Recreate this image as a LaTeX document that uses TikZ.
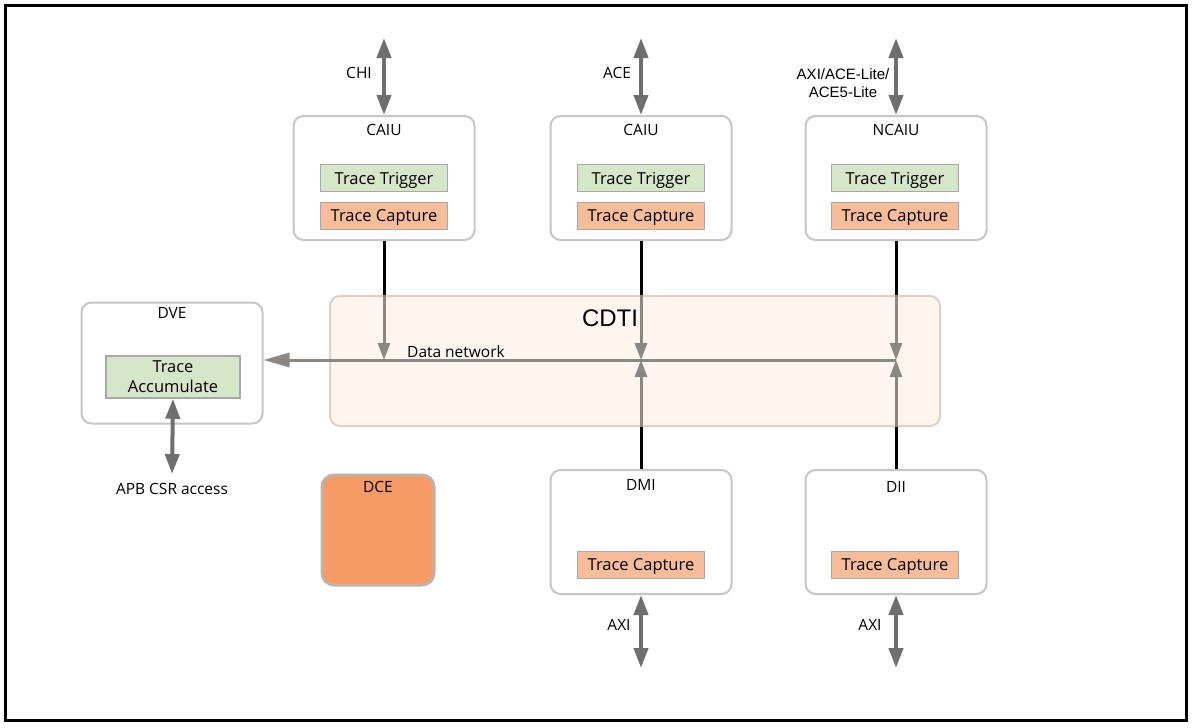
\documentclass[tikz,border=0pt]{standalone}
\usepackage{fontspec}
\setmainfont{Open Sans}
\newfontfamily\arialfont{Liberation Sans}
\usetikzlibrary{arrows.meta,positioning}

\definecolor{unitgray}{HTML}{C6C6C6}
\definecolor{boxgray}{HTML}{A8A8A8}
\definecolor{triggreen}{HTML}{D6E6C8}
\definecolor{captsalmon}{HTML}{F7BC9A}
\definecolor{dcefill}{HTML}{F79B66}
\definecolor{dcedraw}{HTML}{C2B2A6}
\definecolor{cdtifill}{HTML}{FDF5EE}
\definecolor{cdtidraw}{HTML}{D9D1CA}
\definecolor{portgray}{HTML}{6F6F6F}
\definecolor{netgray}{HTML}{8B8783}

\tikzset{
	unit/.style={draw=unitgray, line width=2pt, rounded corners=10pt, fill=white,
		minimum width=181pt, minimum height=124pt, inner sep=0pt},
	unittitle/.style={font=\fontsize{15.5}{18}\selectfont, inner sep=0pt, anchor=north},
	trig/.style={draw=boxgray, line width=1.5pt, fill=triggreen, minimum width=127pt,
		minimum height=27pt, inner sep=0pt, text depth=0pt, font=\fontsize{16.5}{20}\selectfont},
	capt/.style={trig, fill=captsalmon},
	port/.style={draw=portgray, line width=4pt,
		{Triangle[length=20pt,width=14pt]}-{Triangle[length=20pt,width=14pt]}},
	feed/.style={draw=black, line width=3pt},
	net/.style={draw=netgray, line width=3pt},
	tip/.style={-{Triangle[length=17pt,width=12pt]}},
	lbl/.style={font=\fontsize{15.5}{18}\selectfont, inner sep=0pt},
}

\begin{document}
\begin{tikzpicture}[x=1pt,y=-1pt]
	\useasboundingbox (0,0) rectangle (1192,728);
	\draw[line width=3pt] (5,5) rectangle (1186,720);

	% network in the middle
	\node[draw=cdtidraw, fill=cdtifill, line width=2pt, rounded corners=10pt,
		minimum width=610pt, minimum height=130pt] (cdti) at (635,361) {};
	\node[font=\arialfont\fontsize{24}{26}\selectfont, inner sep=0pt] (cdtiname) at (610,318) {CDTI};

	% agent units
	\node[unit] (caiuA) at (384,178) {};
	\node[unit] (caiuB) at (641,178) {};
	\node[unit] (ncaiu) at (896,178) {};
	\node[unittitle, below=9pt of caiuA.north] (caiuAname) {CAIU};
	\node[unittitle, below=9pt of caiuB.north] (caiuBname) {CAIU};
	\node[unittitle, below=9pt of ncaiu.north] (ncaiuname) {NCAIU};

	\node[trig] (trigA) at (384,178) {Trace Trigger};
	\node[capt] (captA) at (384,216) {Trace Capture};
	\node[trig] (trigB) at (641,178) {Trace Trigger};
	\node[capt] (captB) at (641,216) {Trace Capture};
	\node[trig] (trigC) at (895,178) {Trace Trigger};
	\node[capt] (captC) at (895,216) {Trace Capture};

	% DVE
	\node[unit, minimum height=121pt] (dve) at (172,363) {};
	\node[unittitle, below=6pt of dve.north] (dvename) {DVE};
	\node[trig, minimum width=134pt, minimum height=42pt, align=center, text depth=,
		font=\fontsize{16.5}{20}\selectfont] (accum) at (173,377) {Trace\\Accumulate};

	% DCE
	\node[draw=dcedraw, fill=dcefill, line width=3pt, rounded corners=12pt,
		minimum width=112pt, minimum height=110pt] (dce) at (378,530) {};
	\node[unittitle, below=8pt of dce.north] (dcename) {DCE};

	% memory side
	\node[unit] (dmi) at (641,532) {};
	\node[unit] (dii) at (896,532) {};
	\node[unittitle, below=10pt of dmi.north] (dminame) {DMI};
	\node[unittitle, below=12pt of dii.north] (diiname) {DII};
	\node[capt] (captD) at (641,565) {Trace Capture};
	\node[capt] (captE) at (895,565) {Trace Capture};

	% external ports
	\coordinate (chiEnd) at (384,38);
	\coordinate (aceEnd) at (641,38);
	\coordinate (axiEnd) at (896,38);
	\coordinate (apbEnd) at (172,474);
	\coordinate (dmiEnd) at (641,668);
	\coordinate (diiEnd) at (896,668);
	\draw[port] (chiEnd) -- (caiuA.north);
	\draw[port] (aceEnd) -- (caiuB.north);
	\draw[port] (axiEnd) -- (ncaiu.north);
	\draw[port] (accum.south) -- (apbEnd);
	\draw[port] (dmi.south) -- (dmiEnd);
	\draw[port] (dii.south) -- (diiEnd);

	\node[lbl] (chilbl) at (359,73) {CHI};
	\node[lbl] (acelbl) at (617,73) {ACE};
	\node[lbl, font=\arialfont\fontsize{15}{18}\selectfont, align=center] (axilbl) at (843,83) {AXI/ACE-Lite/\\ACE5-Lite};
	\node[lbl] (apblbl) at (172,489) {APB CSR access};
	\node[lbl] (dmiaxi) at (619,625) {AXI};
	\node[lbl] (diiaxi) at (870,625) {AXI};

	% data network
	\coordinate (netR) at (896,360);
	\draw[net, -{Triangle[length=26pt,width=14pt]}] (netR) -- (dve.east |- netR);
	\node[lbl, anchor=south west] (netlbl) at (407,358) {Data network};

	\draw[feed] (caiuA.south) -- (caiuA.south |- cdti.north);
	\draw[feed] (caiuB.south) -- (caiuB.south |- cdti.north);
	\draw[feed] (ncaiu.south) -- (ncaiu.south |- cdti.north);
	\draw[net, tip] (caiuA.south |- cdti.north) -- (caiuA.south |- netR);
	\draw[net, tip] (caiuB.south |- cdti.north) -- (caiuB.south |- netR);
	\draw[net, tip] (ncaiu.south |- cdti.north) -- (netR);

	\draw[feed] (dmi.north) -- (dmi.north |- cdti.south);
	\draw[feed] (dii.north) -- (dii.north |- cdti.south);
	\draw[net, tip] (dmi.north |- cdti.south) -- (dmi.north |- netR);
	\draw[net, tip] (dii.north |- cdti.south) -- (netR);
\end{tikzpicture}
\end{document}
